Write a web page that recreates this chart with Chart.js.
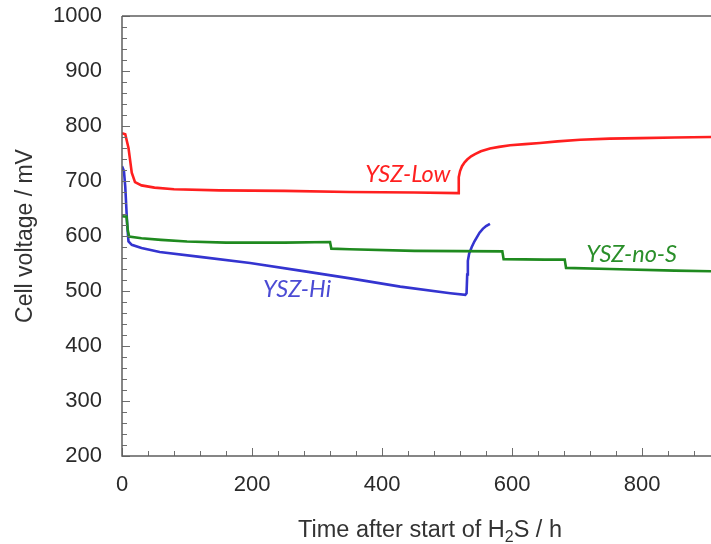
<!DOCTYPE html>
<html>
<head>
<meta charset="utf-8">
<script src="https://cdn.jsdelivr.net/npm/chart.js@4"></script>
<style>
  body { margin: 0; background: #fff; }
  #wrap { width: 711px; height: 544px; }
</style>
</head>
<body>
<div id="wrap"><canvas id="grafico"></canvas></div>
<script>
// datos (tiempo en h, voltaje en mV)
const lowX = [0, 5, 10, 15, 20, 30, 50, 80, 150, 250, 350, 450, 517, 518, 520, 523, 527, 531, 537, 543, 552, 566, 580, 597, 620, 643, 670, 705, 750, 797, 850, 906];
const lowY = [787, 785, 760, 715, 698, 692, 688, 685, 683, 682, 680, 679, 678, 707, 718, 727, 734, 739, 745, 749, 754, 759, 762, 765, 767, 769, 772, 775, 777, 778, 779, 780];

const noSX = [0, 7, 9, 11, 30, 60, 100, 160, 250, 320, 322, 350, 450, 585, 587, 650, 681, 683, 750, 850, 906];
const noSY = [636, 635, 610, 599, 596, 593, 590, 588, 588, 589, 577, 576, 573, 572, 558, 557, 557, 542, 540, 537, 536];

const hiX = [0, 3, 5, 8, 10, 15, 30, 58, 120, 197, 274, 351, 428, 505, 528, 530, 531, 532, 534, 538, 542, 546, 550, 555, 560, 566];
const hiY = [727, 718, 690, 620, 590, 584, 578, 571, 562, 551, 537, 523, 508, 496, 493, 496, 530, 555, 568, 580, 590, 598, 606, 613, 618, 622];

const serieNombres = ["YSZ-Low", "YSZ-no-S", "YSZ-Hi"];
const serieColores = ["#ff1f1f", "#1f8a1f", "#3434d0"];
const textoColores = ["#ff2020", "#2a8f2a", "#4b4bd4"];
// posicion de cada etiqueta en unidades de datos (x, y de la linea base)
const etiquetaX = [374, 714, 217];
const etiquetaY = [698, 553, 489];

const yTitulo = "Cell voltage / mV";
const xMin = 0, xMax = 906, yMin = 200, yMax = 1000;

const toPoints = (xs, ys) => xs.map((x, i) => ({ x: x, y: ys[i] }));

// plugin: ejes, marcas hacia adentro, titulo x con subindice, etiquetas
const ejesPlugin = {
  id: "ejes",
  afterDraw(chart) {
    const ctx = chart.ctx;
    const area = chart.chartArea;
    const xs = chart.scales.x;
    const ys = chart.scales.y;
    ctx.save();

    ctx.strokeStyle = "#6e6e6e";
    ctx.lineWidth = 1;
    for (let v = yMin; v <= yMax; v += 20) {
      const py = Math.round(ys.getPixelForValue(v)) + 0.5;
      const largo = v % 100 === 0 ? 8 : 5;
      ctx.beginPath();
      ctx.moveTo(area.left, py);
      ctx.lineTo(area.left + largo, py);
      ctx.stroke();
    }
    for (let v = xMin; v <= xMax; v += 40) {
      const px = Math.round(xs.getPixelForValue(v)) + 0.5;
      const largo = v % 200 === 0 ? 8 : 5;
      ctx.beginPath();
      ctx.moveTo(px, area.bottom);
      ctx.lineTo(px, area.bottom - largo);
      ctx.stroke();
    }

    ctx.lineWidth = 1.5;
    ctx.strokeStyle = "#5f5f5f";
    ctx.beginPath();
    ctx.moveTo(area.left, area.top);
    ctx.lineTo(area.right, area.top);
    ctx.moveTo(area.left, area.top);
    ctx.lineTo(area.left, area.bottom);
    ctx.lineTo(area.right, area.bottom);
    ctx.stroke();

    // titulo del eje x: Time after start of H2S / h
    const partes = [
      { t: "Time after start of H", sub: false },
      { t: "2", sub: true },
      { t: "S / h", sub: false }
    ];
    const fNormal = "23.5px 'Liberation Sans', Arial, sans-serif";
    const fSub = "16px 'Liberation Sans', Arial, sans-serif";
    let total = 0;
    partes.forEach(p => {
      ctx.font = p.sub ? fSub : fNormal;
      total += ctx.measureText(p.t).width;
    });
    let cx = 430 - total / 2;
    const base = 537;
    ctx.fillStyle = "#333";
    ctx.textBaseline = "alphabetic";
    ctx.textAlign = "left";
    partes.forEach(p => {
      ctx.font = p.sub ? fSub : fNormal;
      ctx.fillText(p.t, cx, p.sub ? base + 5 : base);
      cx += ctx.measureText(p.t).width;
    });

    // etiquetas de las series
    ctx.font = "italic 23.5px Lato, 'Open Sans', sans-serif";
    serieNombres.forEach((n, i) => {
      ctx.fillStyle = textoColores[i];
      ctx.fillText(n, xs.getPixelForValue(etiquetaX[i]), ys.getPixelForValue(etiquetaY[i]));
    });
    ctx.restore();
  }
};

const datos = [toPoints(lowX, lowY), toPoints(noSX, noSY), toPoints(hiX, hiY)];

new Chart(document.getElementById("grafico"), {
  type: "line",
  data: {
    datasets: datos.map((d, i) => ({
      label: serieNombres[i],
      data: d,
      borderColor: serieColores[i],
      backgroundColor: serieColores[i],
      borderWidth: 2.6,
      pointRadius: 0,
      tension: 0,
      fill: false
    }))
  },
  options: {
    responsive: true,
    maintainAspectRatio: false,
    animation: false,
    layout: { padding: { top: 0, right: 0, left: 0, bottom: 0 } },
    plugins: { legend: { display: false }, tooltip: { enabled: false } },
    scales: {
      x: {
        type: "linear",
        min: xMin,
        max: xMax,
        grid: { display: false, drawTicks: false },
        border: { display: false },
        ticks: {
          stepSize: 200,
          includeBounds: false,
          maxRotation: 0,
          padding: 16,
          color: "#2a2a2a",
          font: { family: "'Liberation Sans', Arial, sans-serif", size: 22 }
        },
        afterFit(scale) {
          scale.height = 88;
          scale.paddingLeft = 0;
          scale.paddingRight = 0;
        }
      },
      y: {
        type: "linear",
        min: yMin,
        max: yMax,
        grid: { display: false, drawTicks: false },
        border: { display: false },
        ticks: {
          stepSize: 100,
          padding: 20,
          color: "#2a2a2a",
          font: { family: "'Liberation Sans', Arial, sans-serif", size: 22 },
          callback: (v) => String(v)
        },
        title: {
          display: true,
          text: yTitulo,
          color: "#333",
          padding: { top: 12, bottom: 0 },
          font: { family: "'Liberation Sans', Arial, sans-serif", size: 23 }
        },
        afterFit(scale) {
          scale.width = 122;
          scale.paddingTop = 16;
          scale.paddingBottom = 0;
        }
      }
    }
  },
  plugins: [ejesPlugin]
});
</script>
</body>
</html>
